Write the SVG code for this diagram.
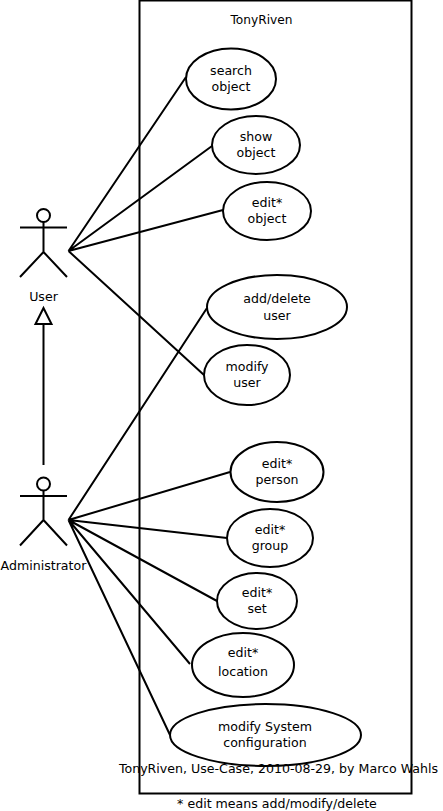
<svg xmlns="http://www.w3.org/2000/svg" width="443" height="811" viewBox="0 0 443 811">
<style>
text{font-family:"DejaVu Sans",sans-serif;font-size:12.6px;text-anchor:middle;fill:#000}
.l{fill:none;stroke:#000;stroke-width:2}
.e{fill:#fff;stroke:#000;stroke-width:2}
</style>
<rect width="443" height="811" fill="#fff"/>
<g id="system"><rect class="l" x="139.500" y="0.500" width="272" height="793"/><text x="261.500" y="24" style="font-size:12.200px">TonyRiven</text></g>
<g id="connectors">
<path class="l" d="M68.500 251L186 77M68.500 251L212 146M68.500 251L223 210M68.500 251L204 375M68.500 520L207 308M68.500 520L230 472M68.500 520L227 538M68.500 520L217 601M68.500 520L190 664M68.500 520L170 735M43.500 465V324"/>
<path d="M43.500 308L35.500 324H51.500Z" fill="#fff" stroke="#000" stroke-width="2"/>
</g>
<g id="actor-user"><circle class="l" cx="43.500" cy="215.500" r="6.500"/><path class="l" d="M43.500 222V252M20 227.500H67M43.500 252L20 277M43.500 252L67 277"/><text x="43.500" y="301">User</text></g>
<g id="actor-admin"><circle class="l" cx="43.500" cy="484" r="6.500"/><path class="l" d="M43.500 490.500V520M20 496H67M43.500 520L20 545.500M43.500 520L67 545.500"/><text x="43.500" y="570">Administrator</text></g>
<g id="uc-search"><ellipse class="e" cx="231" cy="79" rx="45" ry="30.500"/><text x="231" y="75">search</text><text x="231" y="91">object</text></g>
<g id="uc-show"><ellipse class="e" cx="256" cy="145" rx="44" ry="29"/><text x="256" y="141">show</text><text x="256" y="157">object</text></g>
<g id="uc-edit-object"><ellipse class="e" cx="267" cy="211" rx="44" ry="29"/><text x="267" y="207">edit*</text><text x="267" y="223">object</text></g>
<g id="uc-add"><ellipse class="e" cx="277" cy="307" rx="70" ry="32"/><text x="277" y="303">add/delete</text><text x="277" y="320">user</text></g>
<g id="uc-modify-user"><ellipse class="e" cx="247" cy="375" rx="43" ry="30"/><text x="247" y="371">modify</text><text x="247" y="387">user</text></g>
<g id="uc-person"><ellipse class="e" cx="277" cy="472" rx="46.500" ry="30"/><text x="277" y="468">edit*</text><text x="277" y="484">person</text></g>
<g id="uc-group"><ellipse class="e" cx="270" cy="538" rx="43" ry="29"/><text x="270" y="534">edit*</text><text x="270" y="550">group</text></g>
<g id="uc-set"><ellipse class="e" cx="257" cy="601" rx="40" ry="28"/><text x="257" y="597">edit*</text><text x="257" y="613">set</text></g>
<g id="uc-location"><ellipse class="e" cx="243" cy="665" rx="51" ry="32"/><text x="243" y="657">edit*</text><text x="243" y="676">location</text></g>
<g id="uc-config"><ellipse class="e" cx="265.500" cy="735" rx="95.500" ry="31"/><text x="265" y="731">modify System</text><text x="265" y="747">configuration</text></g>
<g id="notes"><text x="278.500" y="773">TonyRiven, Use-Case, 2010-08-29, by Marco Wahls</text><text x="277" y="808">* edit means add/modify/delete</text></g>
</svg>
